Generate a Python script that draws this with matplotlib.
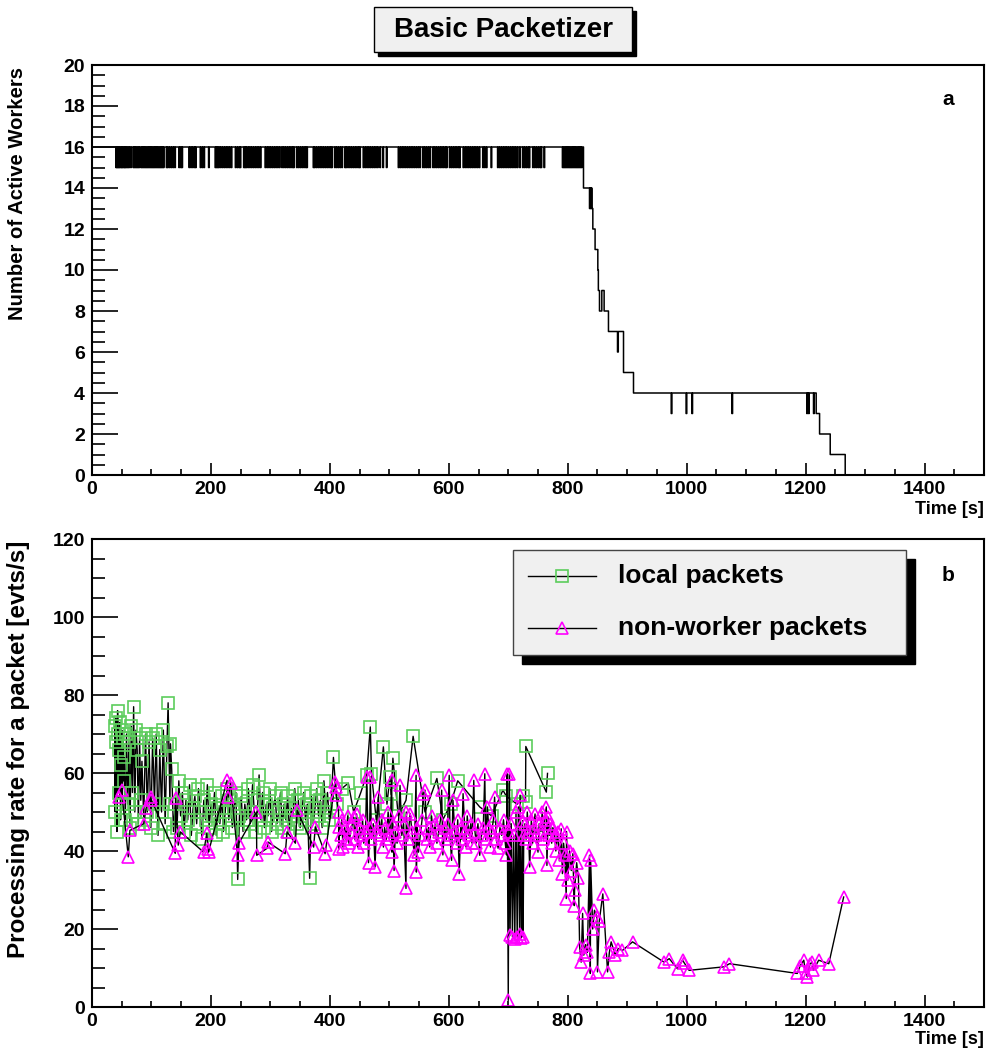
import matplotlib
matplotlib.use("Agg")
import matplotlib.pyplot as plt
from matplotlib.patches import Rectangle
from matplotlib.lines import Line2D
from matplotlib.ticker import MultipleLocator
import numpy as np

plt.rcParams['font.family'] = ['Liberation Sans', 'DejaVu Sans']
plt.rcParams['font.weight'] = 'bold'

# ---- panel a: number of active workers ----
# times (s) where one worker went idle for a moment (16 -> 15 -> 16)
DIP_TIMES = [
    40, 41.5, 43, 44.5, 46, 48, 49.5, 51, 53, 54.5, 56, 58, 60, 62,
    65, 69, 71, 73, 75, 77, 79,
    82, 84, 86, 88, 90, 92, 94, 96, 98, 100, 102, 104, 106, 108, 110, 112, 114, 116, 118, 120,
    125, 127, 130, 133, 136, 139, 146, 149, 151, 163, 166, 169, 172, 174, 182, 185, 188, 196,
    207, 209, 211, 213, 216, 219, 222, 225, 228, 231, 234, 241, 244, 247, 249,
    255, 257, 259, 262, 265, 268, 271, 274, 277, 280, 283,
    291, 294, 297, 300, 303, 306, 309, 312, 315, 319, 322, 325, 328, 331, 334, 337, 339,
    344, 347, 350, 353, 356, 359, 361,
    372, 374, 377, 380, 383, 386, 389, 392, 395, 398, 401, 403, 408, 411, 414, 417, 420,
    425, 427, 430, 433, 436, 439, 442, 445, 448, 450,
    456, 459, 462, 465, 468, 471, 474, 477, 480, 484, 489, 495,
    515, 518, 521, 524, 527, 530, 533, 536, 539, 542, 545, 548, 551,
    556, 559, 562, 565, 568, 573, 576, 579, 582, 585, 588, 591, 594, 596,
    601, 604, 607, 610, 613, 616, 618, 624, 627, 630, 633, 636, 639, 642, 645, 648, 651,
    657, 660, 663, 671,
    682, 685, 688, 691, 694, 697, 700, 703, 706, 709, 712, 715, 719,
    724, 727, 730, 733, 735, 741, 744, 747, 750, 753, 755, 760,
    791, 793, 795, 797, 799, 801, 803, 805, 807, 809, 811, 813, 815, 817, 819, 821, 823,
]
DIP_LEN = 1.2
# ramp-down of the number of workers (time, workers)
RAMP_T = [826.5, 836.6, 837.2, 838.0, 838.6, 839.4, 840.0, 840.6, 842.2, 846.0, 850.6, 851.5,
          853.4, 857.3, 861.2, 868.5, 883.7, 885.0, 893.8, 910.6, 974.0, 975.2, 999.0, 1000.2,
          1008.7, 1009.9, 1076.0, 1077.2, 1202.0, 1203.0, 1205.0, 1206.0, 1213.3, 1214.5,
          1217.8, 1223.5, 1241.4, 1266.6]
RAMP_N = [14, 13, 14, 13, 14, 13, 14, 13, 12, 11, 10, 9,
          8, 9, 8, 7, 6, 7, 5, 4, 3, 4, 3, 4,
          3, 4, 3, 4, 3, 4, 3, 4, 3, 4,
          3, 2, 1, 0]

# ---- panel b: processing rate per packet ----
LOCAL_T = [38, 39, 40, 41, 42, 43, 44, 45, 46, 47, 48, 49, 50, 51, 52, 53, 54,
           56, 58, 60, 62, 64, 66, 68, 70, 72, 74, 76, 78, 80, 82, 84,
           87, 90, 93, 96, 99, 102, 105, 108, 111, 114, 117, 120, 123, 126, 128, 131, 132, 134, 137,
           140, 143, 146, 149, 152, 155, 158, 161, 164, 167, 170, 173, 176, 179, 182, 185, 188,
           191, 194, 197, 200, 203, 206, 209, 212, 215, 218, 221, 224, 227, 230, 233, 236, 239,
           242, 245, 248, 251, 254, 257, 260, 263, 266, 270, 273, 276, 279, 281, 284, 287, 290,
           293, 296, 299, 302, 305, 308, 311, 314, 317, 320, 323, 326, 329, 332, 335, 338, 341,
           344, 347, 350, 353, 356, 359, 362, 366, 369, 372, 375, 378, 381, 384, 387, 390, 393,
           396, 399, 402, 406, 412, 420, 431, 440, 452, 462, 468, 470, 478, 490, 496, 501, 503,
           506, 515, 528, 540, 560, 580, 590, 603, 615, 652, 672, 691, 697, 715, 724, 729, 729.5,
           764, 766]
LOCAL_V = [72, 50, 74, 68, 45, 76, 70, 55, 66, 73, 48, 62, 71, 52, 69, 58, 64,
           48, 70, 52, 68, 46, 72, 55, 77, 50, 71, 66, 47, 69, 53, 63,
           48, 70, 50, 68, 46, 69, 52, 70, 44, 66, 50, 71, 47, 67, 78, 52, 67.5, 61, 45,
           52, 46, 58, 49, 55, 45, 53, 48, 57, 44, 51, 54, 47, 56, 50, 43, 53,
           48, 57, 46, 52, 49, 55, 44, 51, 47, 54, 45, 50, 56, 48, 53, 46, 51,
           55, 32.7, 49, 54, 45, 52, 48, 56, 47, 57, 50, 45, 53, 59.5, 48, 55, 46,
           52, 49, 56, 45, 51, 54, 47, 50, 55, 46, 52, 48, 54, 45, 51, 49, 56,
           47, 53, 46, 50, 55, 48, 52, 33, 54, 47, 51, 56, 49, 53, 46, 58, 50,
           55, 48, 52, 64, 52, 56, 57.4, 50, 55, 59.6, 71.8, 59.8, 48, 66.7, 52, 59, 54.5,
           63.8, 49, 53, 69.4, 50, 58.6, 48, 52, 58, 51.3, 49, 55.6, 54, 52, 54, 52.6, 66.8,
           55.1, 59.9]

NONW_T = [45, 49.8, 61, 63.7, 87, 91, 98.4, 100, 140, 140.5, 145, 148.6, 187.8, 193, 195, 196,
          227, 229, 233, 245, 247, 276.6, 277, 294.5, 296, 325, 328, 342, 345, 372.7, 375.5,
          392, 394, 409, 410, 411, 414.6, 415, 416,
          418, 420, 422, 425, 427, 430, 432, 435, 438, 440, 442, 445, 447, 450, 452, 455, 457,
          460, 462, 465, 467, 468, 470, 473, 476, 478, 481.7, 484, 487, 490, 492, 495, 498,
          501, 504, 504.5, 506, 508, 510, 513, 516, 518, 521, 524, 528, 528.5, 531, 535, 538,
          542, 545, 545.5, 547, 549, 552, 555, 557, 560, 563, 566, 568, 571, 574, 577, 580,
          583, 586, 588, 590, 593, 596, 598, 600.7, 602, 604.7, 607, 610, 613, 615, 617.5,
          620, 622, 624, 627, 629, 631, 634, 637, 639, 642, 644, 646, 649, 652, 655, 658,
          660.5, 662, 665, 667, 670, 672, 675, 677, 680, 683, 686, 689, 692, 695, 697, 698,
          700, 701, 702, 703, 705, 707, 709, 711, 713, 715, 717, 719, 720, 722, 724, 725,
          726, 728, 730, 732, 734, 736, 738.8, 741, 743, 745, 747, 750, 752, 755, 757, 759,
          761, 764, 765, 767, 769, 771, 773, 775, 778, 780, 783, 786, 789, 791, 793, 795,
          797.5, 798, 800, 803, 806, 808.6, 811, 811.5, 815, 818, 820, 822.6, 825, 827, 830,
          833, 836.6, 838, 838.5, 842, 845, 849, 850, 853, 859, 867, 870, 873, 880, 885,
          892, 909, 962, 970.7, 984.6, 993, 996, 1004, 1063, 1072, 1186, 1191, 1197, 1200,
          1203, 1207, 1211, 1213, 1222, 1239, 1264]
NONW_V = [53.8, 55.6, 38.5, 45.3, 47, 51, 53.9, 53, 39.4, 53.5, 41.5, 44.9, 39.7, 44.5, 40.5, 39.7,
          58.1, 53.8, 57.4, 38.9, 42, 50, 38.9, 40.7, 42.3, 39.3, 44.9, 42, 50.4, 41, 46.2,
          39.3, 41.5, 57.7, 56.4, 54.3, 50, 40.5, 46.2,
          44, 48, 41, 46, 43, 49, 42, 45, 47, 48.7, 43, 49.5, 41, 46, 44, 48, 42,
          45, 59, 37, 46, 59, 43, 47, 35.9, 45, 53.8, 44, 48, 41, 46, 43, 50,
          44, 58.1, 39.7, 47, 35, 45, 42, 49, 56.8, 44, 47, 30.4, 50, 43, 49.6, 45,
          39, 59.4, 34.6, 46, 39.7, 44, 48, 54.7, 55.6, 43, 46, 41, 49, 44, 47, 42,
          45, 48, 55.6, 39, 46, 43, 47, 59.4, 44, 37.6, 53, 45, 42, 48, 34.2,
          46, 43, 54.7, 45, 41, 49, 44, 47, 42, 58.1, 45, 42, 47, 38.9, 44, 46,
          59.8, 43, 51.3, 46, 41, 45, 48, 53.8, 43, 40.7, 46, 44, 48, 42, 39, 59.8,
          1.7, 45, 59.8, 18.4, 47, 18, 44, 17.5, 50, 18, 51.3, 18.8, 54.3, 17.8, 47.8, 18,
          44, 47, 43, 50, 45, 35.9, 47.9, 42, 46, 49.5, 44, 39.7, 47, 45, 50, 43,
          48, 51.3, 36.3, 48.7, 44, 47, 42, 46, 44, 40, 45, 37.6, 45.7, 34.2, 42, 39,
          27.8, 45, 32.5, 40, 35, 39.3, 26, 30, 37, 33, 15.4, 11.5, 24, 13.3, 16,
          14, 38.9, 8.6, 37.6, 20, 24.8, 23, 9, 22, 29, 9, 14, 16.7, 13.3, 15,
          14.5, 16.7, 11.5, 12.4, 9.8, 12, 11.3, 9.4, 10.3, 11.1, 8.6, 10.6, 12, 8.6,
          7.7, 11, 11.5, 9.4, 12, 11.1, 28.2]

GREEN = '#5ccd5c'
MAGENTA = '#ff00ff'

# build the step curve for panel a
events = [(0.0, 16)]
for d in DIP_TIMES:
    events.append((d, 15))
    events.append((d + DIP_LEN, 16))
for t, n in zip(RAMP_T, RAMP_N):
    events.append((t, n))
events.sort(key=lambda e: e[0])
step_t = [e[0] for e in events]
step_n = [e[1] for e in events]

W, H = 986, 1052
fig = plt.figure(figsize=(W / 100, H / 100), dpi=100)


def fig_box(x0, y0, x1, y1):
    # pixel box (from top-left) -> figure fraction rect
    return [x0 / W, 1 - y1 / H, (x1 - x0) / W, (y1 - y0) / H]


ax1 = fig.add_axes(fig_box(92, 65, 984, 475))
ax2 = fig.add_axes(fig_box(92, 539, 984, 1007))

ax1.step(step_t, step_n, where='post', color='black', linewidth=1.1)
ax1.set_xlim(0, 1500)
ax1.set_ylim(0, 20)
ax1.yaxis.set_major_locator(MultipleLocator(2))
ax1.yaxis.set_minor_locator(MultipleLocator(0.5))

ax2.plot(LOCAL_T, LOCAL_V, color='black', linewidth=1.0, marker='s', markersize=8.5,
         markerfacecolor='none', markeredgecolor=GREEN, markeredgewidth=1.2)
ax2.plot(NONW_T, NONW_V, color='black', linewidth=1.0, marker='^', markersize=9,
         markerfacecolor='none', markeredgecolor=MAGENTA, markeredgewidth=1.2)
ax2.set_xlim(0, 1500)
ax2.set_ylim(0, 120)
ax2.yaxis.set_major_locator(MultipleLocator(20))
ax2.yaxis.set_minor_locator(MultipleLocator(5))

for ax in (ax1, ax2):
    ax.xaxis.set_major_locator(MultipleLocator(200))
    ax.xaxis.set_minor_locator(MultipleLocator(50))
    ax.tick_params(which='both', direction='in', top=False, right=False,
                   width=1.2, labelsize=14)
    ax.tick_params(axis='y', which='major', length=19, pad=5)
    ax.tick_params(axis='y', which='minor', length=9.5)
    ax.tick_params(axis='x', which='major', length=8.5, pad=4)
    ax.tick_params(axis='x', which='minor', length=4.3)
    for s in ax.spines.values():
        s.set_linewidth(1.5)
    for lab in ax.get_xticklabels() + ax.get_yticklabels():
        lab.set_fontweight('bold')

fig.text(18 / W, 1 - 67 / H, 'Number of Active Workers', rotation=90, ha='center', va='top',
         fontsize=14.6, fontweight='bold')
fig.text(19 / W, 1 - 541 / H, 'Processing rate for a packet [evts/s]', rotation=90,
         ha='center', va='top', fontsize=17.5, fontweight='bold')
fig.text(984 / W, 1 - 510 / H, 'Time [s]', ha='right', va='center', fontsize=13, fontweight='bold')
fig.text(984 / W, 1 - 1040 / H, 'Time [s]', ha='right', va='center', fontsize=13, fontweight='bold')

ax1.text(0.96, 0.915, 'a', transform=ax1.transAxes, fontsize=15, fontweight='bold',
         ha='center', va='center')
ax2.text(0.96, 0.923, 'b', transform=ax2.transAxes, fontsize=15, fontweight='bold',
         ha='center', va='center')

# title box with shadow
tb_sh = fig_box(378, 11, 636, 56)
fig.add_artist(Rectangle(tb_sh[:2], tb_sh[2], tb_sh[3], transform=fig.transFigure,
                         facecolor='black', edgecolor='black', zorder=5))
tb = fig_box(374, 7, 632, 52)
fig.add_artist(Rectangle(tb[:2], tb[2], tb[3], transform=fig.transFigure,
                         facecolor='#f0f0f0', edgecolor='black', linewidth=1.0, zorder=6))
fig.text(503 / W, 1 - 30 / H, 'Basic Packetizer', ha='center', va='center',
         fontsize=20, fontweight='bold', zorder=7)

# legend box with shadow
sh = fig_box(522, 559, 915, 664)
fig.add_artist(Rectangle(sh[:2], sh[2], sh[3], transform=fig.transFigure,
                         facecolor='black', edgecolor='black', zorder=5))
lb = fig_box(513, 550, 906, 655)
fig.add_artist(Rectangle(lb[:2], lb[2], lb[3], transform=fig.transFigure,
                         facecolor='#f0f0f0', edgecolor='#444444', linewidth=1.0, zorder=6))
for py, mk, col, txt in [(576, 's', GREEN, 'local packets'),
                         (628, '^', MAGENTA, 'non-worker packets')]:
    fy = 1 - py / H
    fig.add_artist(Line2D([528 / W, 596 / W], [fy, fy], transform=fig.transFigure,
                          color='black', linewidth=1.0, zorder=7))
    fig.add_artist(Line2D([562 / W], [fy], transform=fig.transFigure, marker=mk,
                          markersize=9, markerfacecolor='none', markeredgecolor=col,
                          markeredgewidth=1.2, linestyle='none', zorder=8))
    fig.text(618 / W, fy, txt, ha='left', va='center', fontsize=19, fontweight='bold', zorder=8)

fig.savefig('out.png', dpi=100)
